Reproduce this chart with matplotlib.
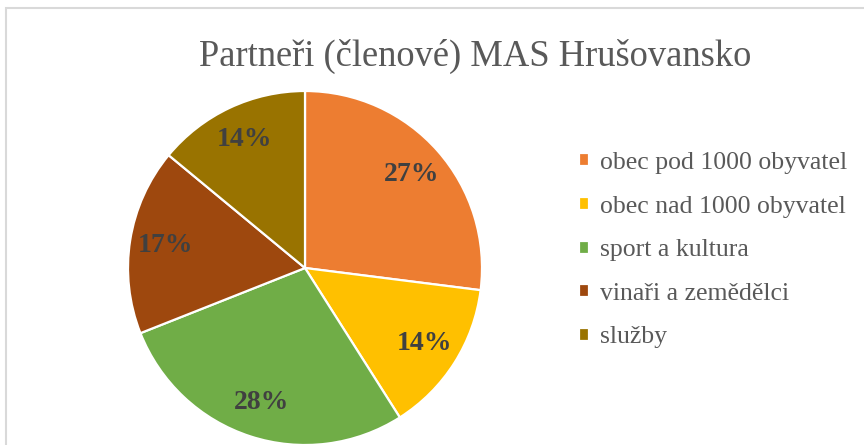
import matplotlib
matplotlib.use("Agg")
import matplotlib.pyplot as plt
from matplotlib.patches import Rectangle

categories = ["obec pod 1000 obyvatel", "obec nad 1000 obyvatel", "sport a kultura",
              "vinaři a zemědělci", "služby"]
shares = [27, 14, 28, 17, 14]
colors = ["#ED7D31", "#FFC000", "#70AD47", "#9E480E", "#997300"]
title = "Partneři (členové) MAS Hrušovansko"

W, H = 864, 445
SERIF = ["Liberation Serif", "DejaVu Serif"]
TXT = "#595959"

fig = plt.figure(figsize=(W / 100, H / 100), dpi=100)
fig.patch.set_facecolor("white")

# chart area frame (right and bottom edges run off the picture)
fig.add_artist(Rectangle((6 / W, -0.1), 1.2, (H - 8) / H + 0.1, transform=fig.transFigure,
                         fill=False, edgecolor="#D9D9D9", lw=1.5, zorder=-1))

ax = fig.add_axes([0, 0, 1, 1])
wedges, _, autotexts = ax.pie(
    shares, colors=colors, startangle=90, counterclock=False,
    center=(305, H - 268), radius=177, autopct="%d%%", pctdistance=0.8,
    wedgeprops=dict(edgecolor="white", linewidth=1.6),
    textprops=dict(family=SERIF, fontsize=20, fontweight="bold", color="#404040"),
)
ax.set_xlim(0, W)
ax.set_ylim(0, H)
ax.set_aspect("equal", adjustable="box")
ax.axis("off")

fig.text(475 / W, 1 - 56 / H, title, ha="center", va="center",
         family=SERIF, fontsize=26.3, color=TXT)

leg = fig.legend(wedges, categories, loc="upper left", bbox_to_anchor=(556 / W, 1 - 129 / H),
                 frameon=False, prop=dict(family=SERIF, size=18.5),
                 handlelength=0.4, handleheight=0.4, handletextpad=0.4, labelspacing=0.84)
for t in leg.get_texts():
    t.set_color(TXT)

fig.savefig("out.png", dpi=100)
